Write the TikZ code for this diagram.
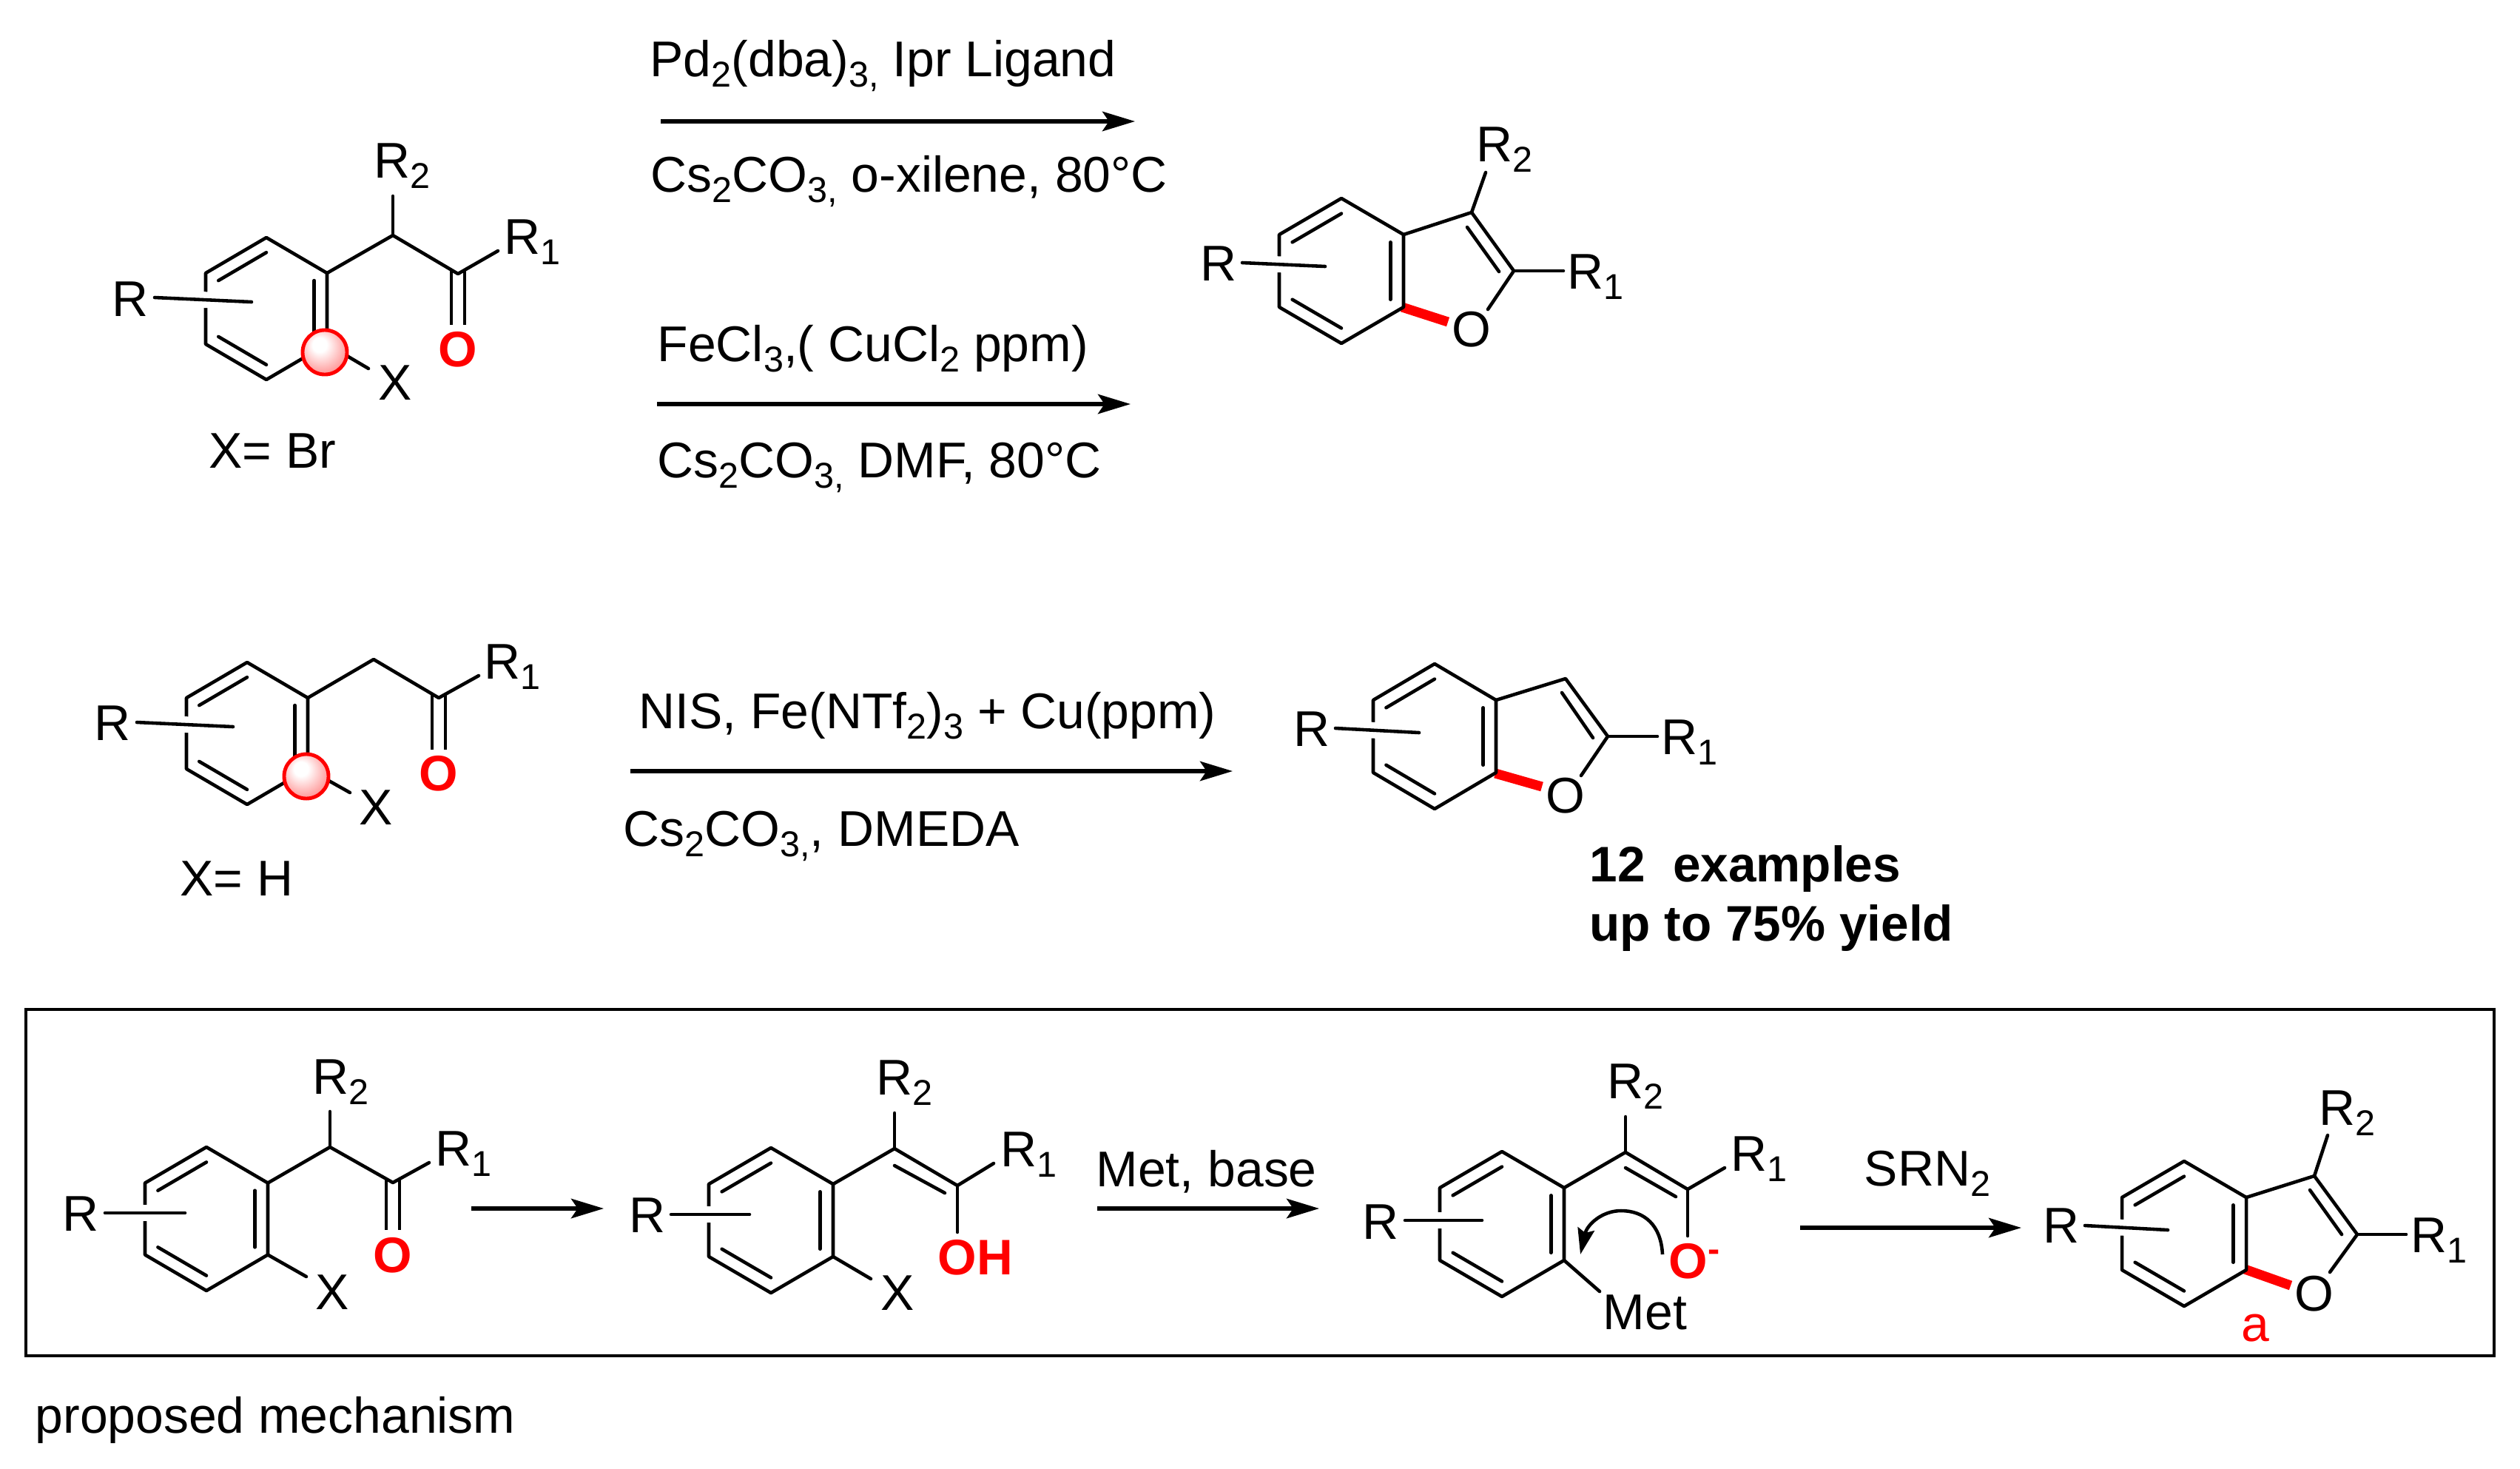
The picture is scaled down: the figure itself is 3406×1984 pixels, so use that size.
\documentclass[tikz,border=0pt]{standalone}
\usepackage{fontspec}
\setmainfont{Liberation Sans}
\usetikzlibrary{arrows.meta}
\newcommand{\sbs}[1]{\raisebox{-0.21em}{\fontsize{13.8}{14}\selectfont #1}}
\pgfdeclareradialshading{ballglow}{\pgfpoint{-7bp}{10bp}}{color(0bp)=(white); color(8bp)=(white); color(36bp)=(red!55); color(50bp)=(red!80)}
\tikzset {
    >={Stealth[length=12.5pt,width=7.5pt,inset=2.5pt]},
    every node/.style={font=\fontsize{19.3}{22}\selectfont},
    lab/.style={anchor=base west, inner sep=0pt},
    redlab/.style={lab, text=red, font=\fontsize{19.2}{22}\selectfont\bfseries},
    bond/.style={line width=1.3pt, line cap=round, line join=round},
    rbond/.style={bond, preaction={draw=white, line width=6.2pt, line cap=butt}},
    dbl/.style={line width=1.3pt, double, double distance=3.9pt},
    redbond/.style={draw=red, line width=3.7pt},
    rxn/.style={->, line width=1.5pt},
    ball/.style={circle, draw=red, line width=1.4pt, minimum size=0.6cm, inner sep=0pt, shade, shading=ballglow},
    pics/ring/.style args={#1/#2}{code={
        \coordinate (-t) at (0,-#2);
        \coordinate (-ul) at (-#1,-#2/2);
        \coordinate (-ll) at (-#1,#2/2);
        \coordinate (-b) at (0,#2);
        \coordinate (-lr) at (#1,#2/2);
        \coordinate (-ur) at (#1,-#2/2);
        \draw[bond] (-t) -- (-ul) -- (-ll) -- (-b) -- (-lr) -- (-ur) -- cycle;
        \draw[bond] (-0.79*#1,-0.395*#2) -- (0,-0.79*#2);
        \draw[bond] (-0.79*#1,0.395*#2) -- (0,0.79*#2);
        \draw[bond] (0.79*#1,-0.395*#2) -- (0.79*#1,0.395*#2);
    }}
}
\begin{document}
\begin{tikzpicture}[x=0.01cm,y=-0.01cm]
    \useasboundingbox (0,0) rectangle (3406,1984);

    % top reactant
    \pic (ma) at (360,417) {ring=82/96};
    \coordinate (ma-ch) at (531,318);
    \coordinate (ma-co) at (619,370);
    \coordinate (ma-d) at (619,364);
    \coordinate (ma-oe) at (619,439);
    \coordinate (ma-r2e) at (531,265);
    \coordinate (ma-r1e) at (673,339);
    \coordinate (ma-xe) at (498,498);
    \coordinate (ma-rs) at (209,402);
    \coordinate (ma-re) at (340,408);
    \draw[dbl] (ma-d) -- (ma-oe);
    \draw[bond] (ma-ur) -- (ma-ch) -- (ma-co) -- (ma-r1e);
    \draw[bond] (ma-ch) -- (ma-r2e);
    \draw[bond] (ma-lr) -- (ma-xe);
    \draw[rbond] (ma-rs) -- (ma-re);
    \node[ball] (ma-ball) at (439,476) {};
    \node[lab] (ma-r) at (151,427) {R};
    \node[lab] (ma-r2) at (505,240) {R\sbs{2}};
    \node[lab] (ma-r1) at (681,343) {R\sbs{1}};
    \node[redlab,anchor=center] (ma-o) at (619,472) {O};
    \node[lab] (ma-x) at (511,540) {X};
    \node[lab] (ma-eq) at (282,632) {X= Br};

    % top arrows
    \coordinate (ar1s) at (893,164);
    \coordinate (ar1e) at (1534,164);
    \coordinate (ar2s) at (888,546);
    \coordinate (ar2e) at (1528,546);
    \draw[rxn] (ar1s) -- (ar1e);
    \draw[rxn] (ar2s) -- (ar2e);
    \node[lab] (ar1a) at (878,103) {Pd\sbs{2}(dba)\sbs{3,} Ipr Ligand};
    \node[lab] (ar1b) at (879,259) {Cs\sbs{2}CO\sbs{3,} o-xilene, 80°C};
    \node[lab] (ar2a) at (888,488) {FeCl\sbs{3},( CuCl\sbs{2} ppm)};
    \node[lab] (ar2b) at (888,645) {Cs\sbs{2}CO\sbs{3,} DMF, 80°C};

    % top product
    \coordinate (mb-lrv) at (1895,415);
    \coordinate (mb-oa) at (1957,435);
    \draw[redbond] (mb-lrv) -- (mb-oa);
    \pic (mb) at (1813,366) {ring=84/98};
    \coordinate (mb-c3) at (1989,287);
    \coordinate (mb-c2) at (2046,366);
    \coordinate (mb-i1) at (1983,307);
    \coordinate (mb-i2) at (2026,367);
    \coordinate (mb-r2e) at (2008,233);
    \coordinate (mb-r1e) at (2113,366);
    \coordinate (mb-oe) at (2011,418);
    \coordinate (mb-rs) at (1679,355);
    \coordinate (mb-re) at (1791,360);
    \draw[bond] (mb-ur) -- (mb-c3) -- (mb-c2) -- (mb-oe);
    \draw[bond] (mb-i1) -- (mb-i2);
    \draw[bond] (mb-c3) -- (mb-r2e);
    \draw[bond] (mb-c2) -- (mb-r1e);
    \draw[rbond] (mb-rs) -- (mb-re);
    \node[lab] (mb-r) at (1622,379) {R};
    \node[lab] (mb-r2) at (1995,218) {R\sbs{2}};
    \node[lab] (mb-r1) at (2118,390) {R\sbs{1}};
    \node[anchor=center, inner sep=0pt] (mb-o) at (1989,445) {O};

    % middle reactant
    \pic (mc) at (334,991) {ring=82/96};
    \coordinate (mc-ch) at (505,891);
    \coordinate (mc-co) at (593,943);
    \coordinate (mc-d) at (593,937);
    \coordinate (mc-oe) at (593,1013);
    \coordinate (mc-r1e) at (647,913);
    \coordinate (mc-xe) at (473,1071);
    \coordinate (mc-rs) at (185,976);
    \coordinate (mc-re) at (315,982);
    \draw[dbl] (mc-d) -- (mc-oe);
    \draw[bond] (mc-ur) -- (mc-ch) -- (mc-co) -- (mc-r1e);
    \draw[bond] (mc-lr) -- (mc-xe);
    \draw[rbond] (mc-rs) -- (mc-re);
    \node[ball] (mc-ball) at (414,1049) {};
    \node[lab] (mc-r) at (127,1000) {R};
    \node[lab] (mc-r1) at (654,917) {R\sbs{1}};
    \node[redlab,anchor=center] (mc-o) at (593,1045) {O};
    \node[lab] (mc-x) at (485,1114) {X};
    \node[lab] (mc-eq) at (243,1210) {X= H};

    % middle arrow
    \coordinate (ar3s) at (852,1042);
    \coordinate (ar3e) at (1666,1042);
    \draw[rxn] (ar3s) -- (ar3e);
    \node[lab] (ar3a) at (863,984) {NIS, Fe(NTf\sbs{2})\sbs{3} + Cu(ppm)};
    \node[lab] (ar3b) at (842,1143) {Cs\sbs{2}CO\sbs{3,}, DMEDA};

    % middle product
    \coordinate (md-lrv) at (2021,1045);
    \coordinate (md-oa) at (2084,1063);
    \draw[redbond] (md-lrv) -- (md-oa);
    \pic (md) at (1939,995) {ring=83/98};
    \coordinate (md-c3) at (2116,917);
    \coordinate (md-c2) at (2173,995);
    \coordinate (md-i1) at (2111,936);
    \coordinate (md-i2) at (2153,997);
    \coordinate (md-r1e) at (2240,995);
    \coordinate (md-oe) at (2137,1048);
    \coordinate (md-rs) at (1805,984);
    \coordinate (md-re) at (1918,990);
    \draw[bond] (md-ur) -- (md-c3) -- (md-c2) -- (md-oe);
    \draw[bond] (md-i1) -- (md-i2);
    \draw[bond] (md-c2) -- (md-r1e);
    \draw[rbond] (md-rs) -- (md-re);
    \node[lab] (md-r) at (1748,1008) {R};
    \node[lab] (md-r1) at (2245,1019) {R\sbs{1}};
    \node[anchor=center, inner sep=0pt] (md-o) at (2116,1075) {O};
    \node[lab, font=\fontsize{19.2}{22}\selectfont\bfseries] (ex1) at (2148,1191) {12\ \ examples};
    \node[lab, font=\fontsize{19.2}{22}\selectfont\bfseries] (ex2) at (2148,1271) {up to 75\% yield};

    % mechanism box
    \draw[line width=1.35pt] (35,1364) rectangle (3371,1832);
    \node[lab] (mechtext) at (47,1936) {proposed mechanism};

    \pic (me) at (279,1647) {ring=83/97};
    \coordinate (me-ch) at (446,1550);
    \coordinate (me-co) at (531,1598);
    \coordinate (me-d) at (531,1593);
    \coordinate (me-oe) at (531,1662);
    \coordinate (me-r2e) at (446,1502);
    \coordinate (me-r1e) at (580,1571);
    \coordinate (me-xe) at (414,1725);
    \coordinate (me-rs) at (142,1639);
    \coordinate (me-re) at (250,1639);
    \draw[dbl] (me-d) -- (me-oe);
    \draw[bond] (me-ur) -- (me-ch) -- (me-co) -- (me-r1e);
    \draw[bond] (me-ch) -- (me-r2e);
    \draw[bond] (me-lr) -- (me-xe);
    \draw[rbond] (me-rs) -- (me-re);
    \node[lab] (me-r) at (84,1663) {R};
    \node[lab] (me-r2) at (422,1478) {R\sbs{2}};
    \node[lab] (me-r1) at (588,1575) {R\sbs{1}};
    \node[redlab,anchor=center] (me-o) at (531,1696) {O};
    \node[lab] (me-x) at (426,1769) {X};

    \coordinate (ar4s) at (637,1633);
    \coordinate (ar4e) at (816,1633);
    \draw[rxn] (ar4s) -- (ar4e);

    \pic (mf) at (1042,1649) {ring=84/98};
    \coordinate (mf-c) at (1209,1552);
    \coordinate (mf-c1) at (1294,1602);
    \coordinate (mf-i1) at (1209,1575);
    \coordinate (mf-i2) at (1277,1612);
    \coordinate (mf-r2e) at (1209,1504);
    \coordinate (mf-r1e) at (1343,1572);
    \coordinate (mf-oe) at (1294,1665);
    \coordinate (mf-xe) at (1177,1728);
    \coordinate (mf-rs) at (907,1641);
    \coordinate (mf-re) at (1013,1641);
    \draw[bond] (mf-ur) -- (mf-c) -- (mf-c1) -- (mf-r1e);
    \draw[bond] (mf-i1) -- (mf-i2);
    \draw[bond] (mf-c) -- (mf-r2e);
    \draw[bond] (mf-c1) -- (mf-oe);
    \draw[bond] (mf-lr) -- (mf-xe);
    \draw[rbond] (mf-rs) -- (mf-re);
    \node[lab] (mf-r) at (850,1665) {R};
    \node[lab] (mf-r2) at (1184,1479) {R\sbs{2}};
    \node[lab] (mf-r1) at (1352,1576) {R\sbs{1}};
    \node[redlab] (mf-oh) at (1267,1722) {OH};
    \node[lab] (mf-x) at (1190,1770) {X};

    \coordinate (ar5s) at (1483,1633);
    \coordinate (ar5e) at (1783,1633);
    \draw[rxn] (ar5s) -- (ar5e);
    \node[lab] (ar5a) at (1481,1603) {Met, base};

    \pic (mg) at (2030,1654) {ring=84/98};
    \coordinate (mg-c) at (2197,1557);
    \coordinate (mg-c1) at (2281,1607);
    \coordinate (mg-i1) at (2197,1578);
    \coordinate (mg-i2) at (2265,1617);
    \coordinate (mg-r2e) at (2197,1509);
    \coordinate (mg-r1e) at (2331,1578);
    \coordinate (mg-oe) at (2281,1670);
    \coordinate (mg-mete) at (2162,1745);
    \coordinate (mg-rs) at (1899,1649);
    \coordinate (mg-re) at (2003,1649);
    \coordinate (mg-cs) at (2247,1695);
    \coordinate (mg-cp) at (2191,1636);
    \coordinate (mg-ce) at (2136,1695);
    \draw[bond] (mg-ur) -- (mg-c) -- (mg-c1) -- (mg-r1e);
    \draw[bond] (mg-i1) -- (mg-i2);
    \draw[bond] (mg-c) -- (mg-r2e);
    \draw[bond] (mg-c1) -- (mg-oe);
    \draw[bond] (mg-lr) -- (mg-mete);
    \draw[rbond] (mg-rs) -- (mg-re);
    \draw[bond, line cap=butt, -{Stealth[length=10pt,width=6.5pt,inset=1.5pt]}] (mg-cs) .. controls (2245,1655) and (2222,1636) .. (mg-cp) .. controls (2165,1636) and (2145,1655) .. (mg-ce);
    \node[lab] (mg-r) at (1841,1674) {R};
    \node[lab] (mg-r2) at (2172,1484) {R\sbs{2}};
    \node[lab] (mg-r1) at (2339,1582) {R\sbs{1}};
    \node[redlab] (mg-o) at (2255,1727) {O\raisebox{0.33em}{\fontsize{13.8}{14}\selectfont -}};
    \node[lab] (mg-met) at (2166,1796) {Met};

    \coordinate (ar6s) at (2433,1659);
    \coordinate (ar6e) at (2732,1659);
    \draw[rxn] (ar6s) -- (ar6e);
    \node[lab] (ar6a) at (2519,1602) {SRN\sbs{2}};

    \coordinate (mh-lrv) at (3034,1715);
    \coordinate (mh-oa) at (3096,1737);
    \draw[redbond] (mh-lrv) -- (mh-oa);
    \pic (mh) at (2952,1667) {ring=84/98};
    \coordinate (mh-c3) at (3128,1589);
    \coordinate (mh-c2) at (3186,1668);
    \coordinate (mh-i1) at (3122,1608);
    \coordinate (mh-i2) at (3165,1668);
    \coordinate (mh-r2e) at (3146,1534);
    \coordinate (mh-r1e) at (3252,1668);
    \coordinate (mh-oe) at (3149,1719);
    \coordinate (mh-rs) at (2818,1656);
    \coordinate (mh-re) at (2930,1662);
    \draw[bond] (mh-ur) -- (mh-c3) -- (mh-c2) -- (mh-oe);
    \draw[bond] (mh-i1) -- (mh-i2);
    \draw[bond] (mh-c3) -- (mh-r2e);
    \draw[bond] (mh-c2) -- (mh-r1e);
    \draw[rbond] (mh-rs) -- (mh-re);
    \node[lab] (mh-r) at (2761,1679) {R};
    \node[lab] (mh-r2) at (3134,1520) {R\sbs{2}};
    \node[lab] (mh-r1) at (3258,1692) {R\sbs{1}};
    \node[anchor=center, inner sep=0pt] (mh-o) at (3128,1748) {O};
    \node[lab, text=red] (mh-a) at (3029,1812) {a};
\end{tikzpicture}
\end{document}
